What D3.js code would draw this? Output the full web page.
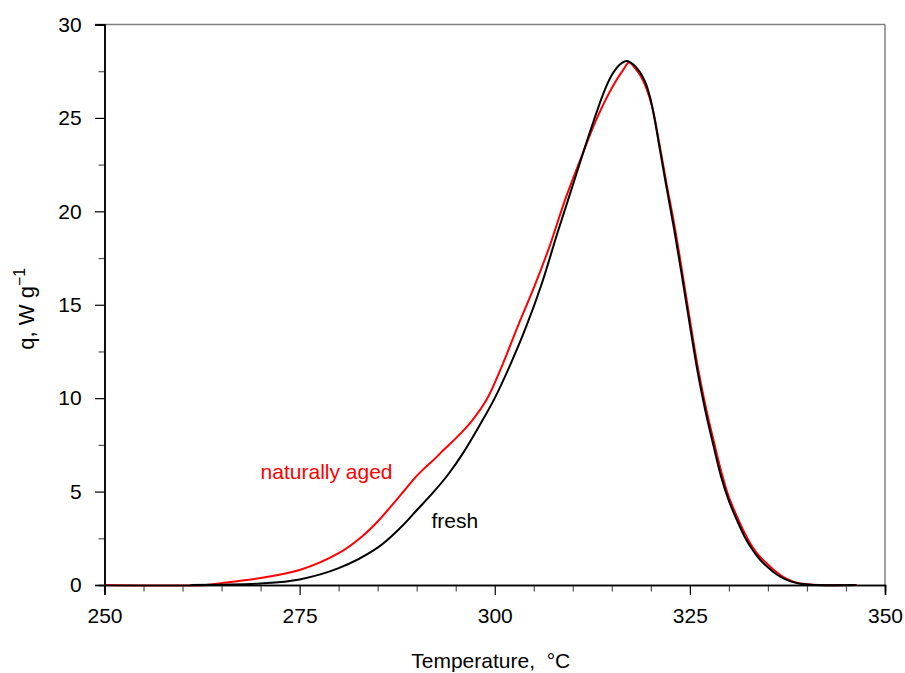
<!DOCTYPE html>
<html>
<head>
<meta charset="utf-8">
<script src="https://cdn.jsdelivr.net/npm/d3@7"></script>
<style>
  body { margin: 0; background: #fff; }
  svg text { font-family: Arial, "Liberation Sans", sans-serif; }
</style>
</head>
<body>
<div id="chart"></div>
<script>
// Heat flow curves
const freshT = [261, 265, 270, 275, 280, 285, 288, 290, 292, 294, 296, 298, 300, 302, 304, 306, 308, 310, 312, 314, 315, 316, 316.9, 317.8, 318.6, 319.3, 319.9, 320.5, 321, 322, 323, 324, 325, 326, 327, 328, 329, 330, 331, 332, 333, 334, 335, 336, 337, 338, 339, 340, 341, 346.2];
const freshQ = [0, 0.02, 0.08, 0.3, 0.9, 2.0, 3.1, 4.0, 4.9, 5.9, 7.1, 8.5, 10.0, 11.8, 13.8, 16.1, 18.8, 21.4, 24.0, 26.4, 27.3, 27.85, 28.05, 27.85, 27.45, 26.9, 26.1, 24.9, 23.7, 21.3, 19.0, 16.5, 13.9, 11.4, 9.3, 7.5, 5.8, 4.5, 3.5, 2.6, 1.9, 1.35, 0.95, 0.6, 0.35, 0.18, 0.08, 0.03, 0, 0];

const agedT = [250, 263, 265, 267, 270, 275, 280, 283, 285, 287.5, 288.7, 289.8, 291, 292.3, 293.5, 295, 297, 299, 301, 303, 305, 307, 309, 311, 313, 315, 316.5, 317.2, 318, 319, 320.1, 321.1, 322, 323, 324, 325, 326, 327, 328, 329, 330, 331, 332, 333, 334, 335, 336, 337, 338, 339, 340, 341.5, 346.4];
const agedQ = [0, 0, 0.1, 0.2, 0.38, 0.8, 1.7, 2.6, 3.4, 4.6, 5.2, 5.75, 6.25, 6.75, 7.25, 7.85, 8.75, 9.95, 11.8, 13.9, 15.9, 18.1, 20.6, 22.8, 24.9, 26.6, 27.6, 27.96, 27.65, 27.0, 25.7, 23.6, 21.5, 19.3, 16.8, 14.2, 11.7, 9.6, 7.8, 6.1, 4.7, 3.7, 2.8, 2.05, 1.5, 1.1, 0.72, 0.42, 0.22, 0.1, 0.04, 0, 0];

const xMajor = [250, 275, 300, 325, 350];
const xMinor = [255, 260, 265, 270, 280, 285, 290, 295, 305, 310, 315, 320, 330, 335, 340, 345];
const yMajor = [0, 5, 10, 15, 20, 25, 30];
const yMinor = [2.5, 7.5, 12.5, 17.5, 22.5, 27.5];

const series = [
    { name: 'naturally aged', color: '#ff0000', T: agedT, q: agedQ, labelT: 270, labelQ: 5.7 },
    { name: 'fresh', color: '#000000', T: freshT, q: freshQ, labelT: 291.9, labelQ: 3.05 }
];

const W = 905, H = 673;
const margin = { top: 24.5, right: 20, bottom: 88, left: 104.5 };
const width = 885 - margin.left;
const height = 585 - margin.top;

const svg = d3.select('#chart').append('svg')
    .attr('width', W)
    .attr('height', H);

const g = svg.append('g').attr('transform', `translate(${margin.left},${margin.top})`);

const x = d3.scaleLinear().domain([250, 350]).range([0, width]);
const y = d3.scaleLinear().domain([0, 30]).range([height, 0]);

// frame: top and right in grey
g.append('line').attr('x1', -9.5).attr('x2', width).attr('y1', 0).attr('y2', 0)
    .attr('stroke', '#808080').attr('stroke-width', 1.5);
g.append('line').attr('x1', width).attr('x2', width).attr('y1', 0).attr('y2', height)
    .attr('stroke', '#808080').attr('stroke-width', 1.5);

// curves (red under black)
const line = d3.line()
    .x(d => x(d[0]))
    .y(d => y(d[1]))
    .curve(d3.curveCatmullRom.alpha(0.5));

series.forEach(s => {
    const pts = s.T.map((t, i) => [t, s.q[i]]);
    g.append('path')
        .datum(pts)
        .attr('fill', 'none')
        .attr('stroke', s.color)
        .attr('stroke-width', 2)
        .attr('d', line);

    g.append('text')
        .attr('x', x(s.labelT))
        .attr('y', y(s.labelQ))
        .attr('fill', s.color)
        .style('font-size', '21px')
        .text(s.name);
});

// axes
const xAxisMinor = g.append('g').attr('transform', `translate(0,${height})`)
    .call(d3.axisBottom(x).tickValues(xMinor).tickSize(6.5).tickFormat(''));
const xAxis = g.append('g').attr('transform', `translate(0,${height})`)
    .call(d3.axisBottom(x).tickValues(xMajor).tickSize(10).tickPadding(13).tickFormat(d3.format('d')));

const yAxisMinor = g.append('g')
    .call(d3.axisLeft(y).tickValues(yMinor).tickSize(6).tickFormat(''));
const yAxis = g.append('g')
    .call(d3.axisLeft(y).tickValues(yMajor).tickSize(9.5).tickPadding(13.3).tickFormat(d3.format('d')));

[xAxisMinor, xAxis, yAxisMinor, yAxis].forEach(a => {
    a.select('.domain').attr('stroke', '#000').attr('stroke-width', 1.5);
    a.selectAll('.tick line').attr('stroke', '#000').attr('stroke-width', 1.2);
    a.selectAll('.tick text').attr('fill', '#000').style('font-size', '21px')
        .style('font-family', 'Arial, "Liberation Sans", sans-serif');
});
xAxisMinor.selectAll('.tick line').attr('stroke', '#555');
yAxisMinor.selectAll('.tick line').attr('stroke', '#555');

// axis titles
svg.append('text')
    .attr('x', margin.left + width / 2 - 4)
    .attr('y', 668)
    .attr('text-anchor', 'middle')
    .style('font-size', '21px')
    .attr('fill', '#000')
    .attr('xml:space', 'preserve')
    .text('Temperature,  °C');

const yTitle = svg.append('text')
    .attr('transform', `translate(34,${margin.top + height / 2 + 4}) rotate(-90)`)
    .attr('text-anchor', 'middle')
    .style('font-size', '22px')
    .attr('fill', '#000');
yTitle.append('tspan').text('q, W g');
yTitle.append('tspan').attr('dy', -9).style('font-size', '16px').text('\u22121');
</script>
</body>
</html>
